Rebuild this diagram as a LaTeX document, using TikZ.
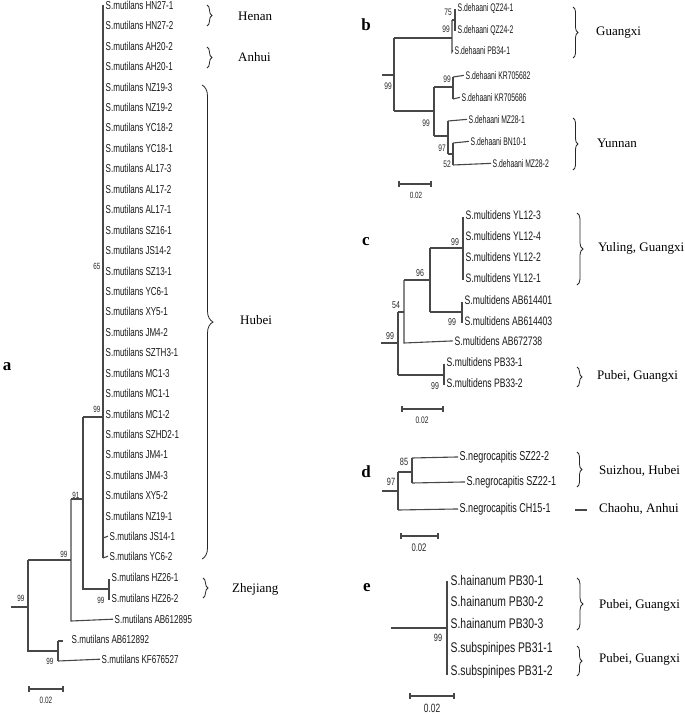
\documentclass[tikz,border=0pt]{standalone}
\usepackage{fontspec}
\setmainfont{Liberation Serif}
\newfontfamily\nsf[FakeStretch=0.70]{Liberation Sans}
\newfontfamily\nsfb[FakeStretch=0.62]{Liberation Sans}
\newfontfamily\nsfe[FakeStretch=0.74]{Liberation Sans}
\usetikzlibrary{decorations.pathreplacing}
\tikzset{
  tr/.style={line width=1.1pt, draw=black!72},
  tax/.style={anchor=mid west, inner xsep=1.5pt, inner ysep=0pt, text=black!90},
  taxA/.style={tax, font=\nsf\fontsize{11.5}{13}\selectfont},
  taxB/.style={tax, font=\nsfb\fontsize{11}{13}\selectfont},
  taxC/.style={tax, font=\nsf\fontsize{12.3}{14}\selectfont},
  taxD/.style={tax, font=\nsf\fontsize{12.9}{15}\selectfont},
  taxE/.style={tax, font=\nsfe\fontsize{14}{16}\selectfont},
  bs/.style={inner sep=0pt, text=black!85, font=\nsf\fontsize{#1}{#1}\selectfont},
  region/.style={anchor=mid west, inner sep=0pt, font=\fontsize{13}{15}\selectfont},
  plab/.style={inner sep=0pt, font=\bfseries\fontsize{17}{19}\selectfont},
  br/.style={line width=0.8pt, draw=black!85, decorate, decoration={brace, amplitude=#1}},
  sclab/.style={inner sep=0pt, text=black!85, font=\nsf\fontsize{#1}{#1}\selectfont},
}
\begin{document}
\begin{tikzpicture}[x=1pt, y=-1pt]
\useasboundingbox[fill=white] (0,0) rectangle (685,715);

%%%%%%%%%%%%%%%% Panel a
\node[plab] (la) at (7,367) {a};
\foreach \t [count=\i from 0] in {HN27-1,HN27-2,AH20-2,AH20-1,NZ19-3,NZ19-2,YC18-2,YC18-1,AL17-3,AL17-2,AL17-1,SZ16-1,JS14-2,SZ13-1,YC6-1,XY5-1,JM4-2,SZTH3-1,MC1-3,MC1-1,MC1-2,SZHD2-1,JM4-1,JM4-3,XY5-2,NZ19-1}
  \node[taxA] (a\i) at (104,{7+20.44*\i}) {S.mutilans \t};
\node[taxA] (a26) at (108,538) {S.mutilans JS14-1};
\node[taxA] (a27) at (108,558) {S.mutilans YC6-2};
\node[taxA] (aHZ1) at (110,579) {S.mutilans HZ26-1};
\node[taxA] (aHZ2) at (110,600) {S.mutilans HZ26-2};
\node[taxA] (aAB5) at (113,621) {S.mutilans AB612895};
\node[taxA] (aAB2) at (70,641) {S.mutilans AB612892};
\node[taxA] (aKF) at (100,661) {S.mutilans KF676527};

\coordinate (aP1) at (103,5);
\coordinate (aP2) at (103,558);
\coordinate (aN99) at (83,417);
\coordinate (aN99b) at (83,589);
\coordinate (aHZ) at (109,589);
\coordinate (aN91) at (71,499);
\coordinate (aN91b) at (71,621);
\coordinate (aN99c) at (28,560);
\coordinate (aN99d) at (28,651);
\coordinate (aN58) at (58,651);
\coordinate (aR) at (11,607);
\coordinate (aTip2) at (63,641);

\draw[tr] (aP1) -- (aP2);
\draw[tr] (103,538) -- (a26.west);
\draw[tr] (aP2) -- (a27.west);
\draw[tr] (aN99) -- (103,417);
\draw[tr] (aN99) -- (aN99b) -- (aHZ);
\draw[tr] (109,579) -- (109,600);
\draw[tr] (aN91) -- (83,499);
\draw[tr] (aN91) -- (aN91b) -- (aAB5.west);
\draw[tr] (aN99c) -- (71,560);
\draw[tr] (aN99c) -- (aN99d) -- (aN58);
\draw[tr] (58,641) -- (58,661);
\draw[tr] (58,641) -- (aTip2);
\draw[tr] (58,661) -- (aKF.west);
\draw[tr] (aR) -- (28,607);

\node[bs=9] (ab1) at (97,266) {65};
\node[bs=9] (ab2) at (97,409) {99};
\node[bs=9] (ab3) at (76,495) {91};
\node[bs=9] (ab4) at (64,554) {99};
\node[bs=9] (ab5) at (101,600) {99};
\node[bs=9] (ab6) at (21,598) {99};
\node[bs=9] (ab7) at (50,661) {99};

\coordinate (aS1) at (29,689);
\coordinate (aS2) at (63,689);
\draw[tr] (aS1) -- (aS2);
\draw[tr] (29,686) -- (29,692);
\draw[tr] (63,686) -- (63,692);
\node[sclab=9.2] (asc) at (46,700) {0.02};

\draw[br=5] (207,5) -- (207,26);
\draw[br=5] (207,47) -- (207,68);
\draw[br=11] (202,85) -- (202,559);
\draw[br=5] (203,578) -- (203,598);
\node[region] (rHenan) at (238,18) {Henan};
\node[region] (rAnhui) at (238,59) {Anhui};
\node[region] (rHubei) at (240,322) {Hubei};
\node[region] (rZhe) at (232,590) {Zhejiang};

%%%%%%%%%%%%%%%% Panel b
\node[plab] (lb) at (366,25) {b};
\node[taxB] (bQ1) at (456,9) {S.dehaani QZ24-1};
\node[taxB] (bQ2) at (456,31) {S.dehaani QZ24-2};
\node[taxB] (bPB) at (453,52) {S.dehaani PB34-1};
\node[taxB] (bK2) at (464,77) {S.dehaani KR705682};
\node[taxB] (bK6) at (460,99) {S.dehaani KR705686};
\node[taxB] (bM1) at (467,121) {S.dehaani MZ28-1};
\node[taxB] (bBN) at (469,143) {S.dehaani BN10-1};
\node[taxB] (bM2) at (491,165) {S.dehaani MZ28-2};

\coordinate (bR) at (382,75);
\coordinate (bN0) at (394,75);
\draw[tr] (bR) -- (bN0);
\draw[tr] (394,38) -- (394,111);
\draw[tr] (394,38) -- (452,38);
\draw[tr] (452,20) -- (452,52) -- (bPB.west);
\draw[tr] (452,20) -- (455,20);
\draw[tr] (455,9) -- (455,31);
\draw[tr] (394,111) -- (434,111);
\draw[tr] (434,87) -- (434,136);
\draw[tr] (434,87) -- (453,87);
\draw[tr] (453,77) -- (453,99);
\draw[tr] (453,77) -- (bK2.west);
\draw[tr] (453,99) -- (bK6.west);
\draw[tr] (434,136) -- (448,136);
\draw[tr] (448,121) -- (448,154);
\draw[tr] (448,121) -- (bM1.west);
\draw[tr] (448,154) -- (453,154);
\draw[tr] (453,143) -- (453,165);
\draw[tr] (453,143) -- (bBN.west);
\draw[tr] (453,165) -- (bM2.west);

\node[bs=9.5] (bb1) at (448,12) {75};
\node[bs=9.5] (bb2) at (446,29) {99};
\node[bs=9.5] (bb3) at (388,86) {99};
\node[bs=9.5] (bb4) at (447,79) {99};
\node[bs=9.5] (bb5) at (426,123) {99};
\node[bs=9.5] (bb6) at (442,148) {97};
\node[bs=9.5] (bb7) at (447,164) {52};

\draw[br=5] (573,7) -- (573,58);
\draw[br=5] (573,118) -- (573,170);
\node[region] (rGx) at (596,33) {Guangxi};
\node[region] (rYn) at (597,145) {Yunnan};

\draw[tr] (399,184) -- (431,184);
\draw[tr] (399,181) -- (399,187);
\draw[tr] (431,181) -- (431,187);
\node[sclab=9] (bsc) at (416,195) {0.02};

%%%%%%%%%%%%%%%% Panel c
\node[plab] (lc) at (366,242) {c};
\node[taxC] (cY3) at (464,217) {S.multidens YL12-3};
\node[taxC] (cY4) at (464,238) {S.multidens YL12-4};
\node[taxC] (cY2) at (464,259) {S.multidens YL12-2};
\node[taxC] (cY1) at (464,280) {S.multidens YL12-1};
\node[taxC] (cA1) at (463,302) {S.multidens AB614401};
\node[taxC] (cA3) at (463,323) {S.multidens AB614403};
\node[taxC] (cA7) at (453,343) {S.multidens AB672738};
\node[taxC] (cP1) at (445,364) {S.multidens PB33-1};
\node[taxC] (cP2) at (445,385) {S.multidens PB33-2};

\draw[tr] (381,343) -- (398,343);
\draw[tr] (398,312) -- (398,375);
\draw[tr] (398,312) -- (404,312);
\draw[tr] (404,280) -- (404,343) -- (cA7.west);
\draw[tr] (404,280) -- (430,280);
\draw[tr] (430,248) -- (430,312);
\draw[tr] (430,248) -- (463,248);
\draw[tr] (463,217) -- (463,280);
\draw[tr] (430,312) -- (462,312);
\draw[tr] (462,302) -- (462,323);
\draw[tr] (398,375) -- (444,375);
\draw[tr] (444,364) -- (444,385);

\node[bs=10] (cb1) at (455,242) {99};
\node[bs=10] (cb2) at (420,273) {96};
\node[bs=10] (cb3) at (396,305) {54};
\node[bs=10] (cb4) at (452,322) {99};
\node[bs=10] (cb5) at (390,336) {99};
\node[bs=10] (cb6) at (435,386) {99};

\draw[br=6] (577,213) -- (577,285);
\draw[br=5] (577,367) -- (577,387);
\node[region] (rYl) at (598,249) {Yuling, Guangxi};
\node[region] (rPb1) at (597,377) {Pubei, Guangxi};

\draw[tr] (402,409) -- (443,409);
\draw[tr] (402,406) -- (402,412);
\draw[tr] (443,406) -- (443,412);
\node[sclab=9.5] (csc) at (422,420) {0.02};

%%%%%%%%%%%%%%%% Panel d
\node[plab] (ld) at (366,472) {d};
\node[taxD] (dS2) at (458,458) {S.negrocapitis SZ22-2};
\node[taxD] (dS1) at (465,483) {S.negrocapitis SZ22-1};
\node[taxD] (dC) at (458,510) {S.negrocapitis CH15-1};

\draw[tr] (382,491) -- (398,491);
\draw[tr] (398,472) -- (398,510);
\draw[tr] (398,472) -- (412,472);
\draw[tr] (412,458) -- (412,483);
\draw[tr] (412,458) -- (dS2.west);
\draw[tr] (412,483) -- (dS1.west);
\draw[tr] (398,510) -- (dC.west);

\node[bs=10.5] (db1) at (404,462) {85};
\node[bs=10.5] (db2) at (391,482) {97};

\draw[br=5] (577,452) -- (577,487);
\node[region] (rSz) at (599,472) {Suizhou, Hubei};
\draw[tr] (575,510) -- (587,510);
\node[region] (rCh) at (599,510) {Chaohu, Anhui};

\draw[tr] (401,536) -- (438,536);
\draw[tr] (401,533) -- (401,539);
\draw[tr] (438,533) -- (438,539);
\node[sclab=11] (dsc) at (419,548) {0.02};

%%%%%%%%%%%%%%%% Panel e
\node[plab] (le) at (367,588) {e};
\node[taxE] (eH1) at (449,583) {S.hainanum PB30-1};
\node[taxE] (eH2) at (449,604) {S.hainanum PB30-2};
\node[taxE] (eH3) at (449,626) {S.hainanum PB30-3};
\node[taxE] (eS1) at (449,650) {S.subspinipes PB31-1};
\node[taxE] (eS2) at (449,673) {S.subspinipes PB31-2};

\draw[tr] (391,628) -- (447,628);
\draw[tr] (447,581) -- (447,675);
\node[bs=10.5] (eb1) at (438,638) {99};

\draw[br=6] (577,578) -- (577,630);
\draw[br=5] (577,646) -- (577,676);
\node[region] (rPb2) at (599,606) {Pubei, Guangxi};
\node[region] (rPb3) at (599,660) {Pubei, Guangxi};

\draw[tr] (410,696) -- (454,696);
\draw[tr] (410,693) -- (410,699);
\draw[tr] (454,693) -- (454,699);
\node[sclab=12] (esc) at (432,708) {0.02};
\end{tikzpicture}
\end{document}
